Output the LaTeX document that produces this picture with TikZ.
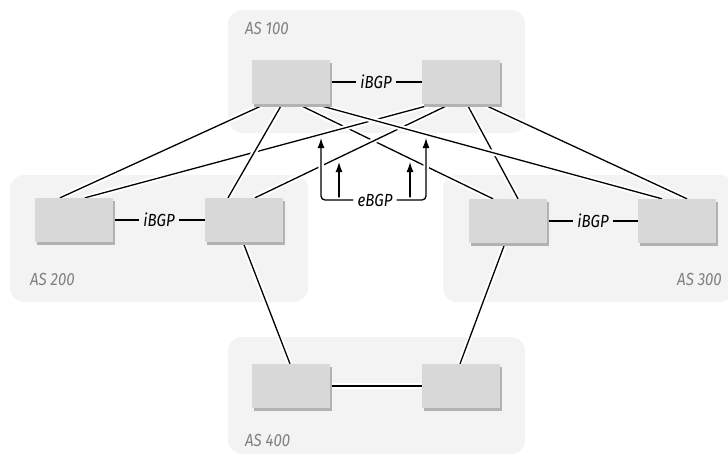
\documentclass[tikz,border=0pt]{standalone}
\usepackage{fontspec}
\setmainfont{Fira Sans}[FakeStretch=0.86]
\usetikzlibrary{arrows.meta,shadows,positioning}
\definecolor{asfill}{RGB}{243,243,243}
\definecolor{rtfill}{RGB}{216,216,216}
\definecolor{asgray}{RGB}{128,128,128}
\pgfdeclarelayer{back}
\pgfdeclarelayer{front}
\pgfsetlayers{back,main,front}
\tikzset{
  asbox/.style={fill=asfill,rounded corners=14pt},
  router/.style={fill=rtfill,minimum width=78pt,minimum height=44pt,inner sep=0pt,
    drop shadow={shadow xshift=1.5pt,shadow yshift=-3pt,fill=black!30,opacity=1}},
  aslbl/.style={font=\itshape\fontsize{17.5}{17.5}\selectfont,text=asgray,inner sep=0pt},
  bgplbl/.style={font=\itshape\fontsize{17.5}{17.5}\selectfont,inner sep=4pt},
  link/.style={line width=1.3pt,preaction={draw=white,line width=5.5pt}},
  ebgp/.style={line width=1.3pt,-{Latex[length=10pt,width=7pt]},preaction={draw=white,line width=5.5pt}}
}
\begin{document}
\begin{tikzpicture}[x=1pt,y=-1pt]
\useasboundingbox (0,0) rectangle (728,459);
% autonomous systems
\begin{pgfonlayer}{back}
\fill[asbox] (228,10) rectangle (525,133);
\fill[asbox] (10,175) rectangle (308,302);
\fill[asbox] (443,175) rectangle (734,302);
\fill[asbox] (228,337) rectangle (525,454);
\end{pgfonlayer}
\node[aslbl,anchor=west] (l100) at (245,28) {AS 100};
\node[aslbl,anchor=west] (l200) at (30,279) {AS 200};
\node[aslbl,anchor=east] (l300) at (722,279) {AS 300};
\node[aslbl,anchor=west] (l400) at (245,440) {AS 400};
% routers
\begin{pgfonlayer}{front}
\foreach \n/\x/\y in {r100a/291/82,r100b/461/82,r200a/74/220,r200b/244/220,
                      r300a/508/221,r300b/677/221,r400a/291/386,r400b/461/386}
  \node[router] (\n) at (\x,\y) {};
\end{pgfonlayer}
% iBGP sessions
\node[bgplbl] (ib100) at (376,82) {iBGP};
\node[bgplbl] (ib200) at (159,220) {iBGP};
\node[bgplbl] (ib300) at (593,221) {iBGP};
\draw[line width=1.3pt] (r100a) -- (ib100) -- (r100b);
\draw[line width=1.3pt] (r200a) -- (ib200) -- (r200b);
\draw[line width=1.3pt] (r300a) -- (ib300) -- (r300b);
% links between AS 100 and AS 200/300
\draw[link] ([xshift=-26pt]r100a.south) -- ([xshift=-14pt]r200a.north);
\draw[link] ([xshift=7pt]r100a.south) -- ([xshift=-15pt]r300a.north);
\draw[link] ([xshift=6pt]r100b.south) -- ([xshift=10pt]r300a.north);
\draw[link] ([xshift=-28pt]r100b.south) -- ([xshift=11pt]r200a.north);
\draw[link] ([xshift=22pt]r100b.south) -- ([xshift=10pt]r300b.north);
\draw[link] ([xshift=-11pt]r100b.south) -- ([xshift=11pt]r200b.north);
\draw[link] ([xshift=-9pt]r100a.south) -- ([xshift=-16pt]r200b.north);
\draw[link] ([xshift=24pt]r100a.south) -- ([xshift=-15pt]r300b.north);
% links to AS 400
\draw[link] ([xshift=-1pt]r200b.south) -- ([xshift=-1pt]r400a.north);
\draw[link] ([xshift=-3pt]r300a.south) -- ([xshift=-1pt]r400b.north);
\draw[link] (r400a) -- (r400b);
% eBGP marker
\node[bgplbl] (eb) at (375,200) {eBGP};
\coordinate (e1) at (321,138);
\coordinate (e2) at (339,162);
\coordinate (e3) at (410,162);
\coordinate (e4) at (426,138);
\draw[ebgp] (eb.west -| e2) -- (e2);
\draw[ebgp] (eb.east -| e3) -- (e3);
\draw[ebgp,rounded corners=4pt] (eb.west) -| (e1);
\draw[ebgp,rounded corners=4pt] (eb.east) -| (e4);
\end{tikzpicture}
\end{document}
